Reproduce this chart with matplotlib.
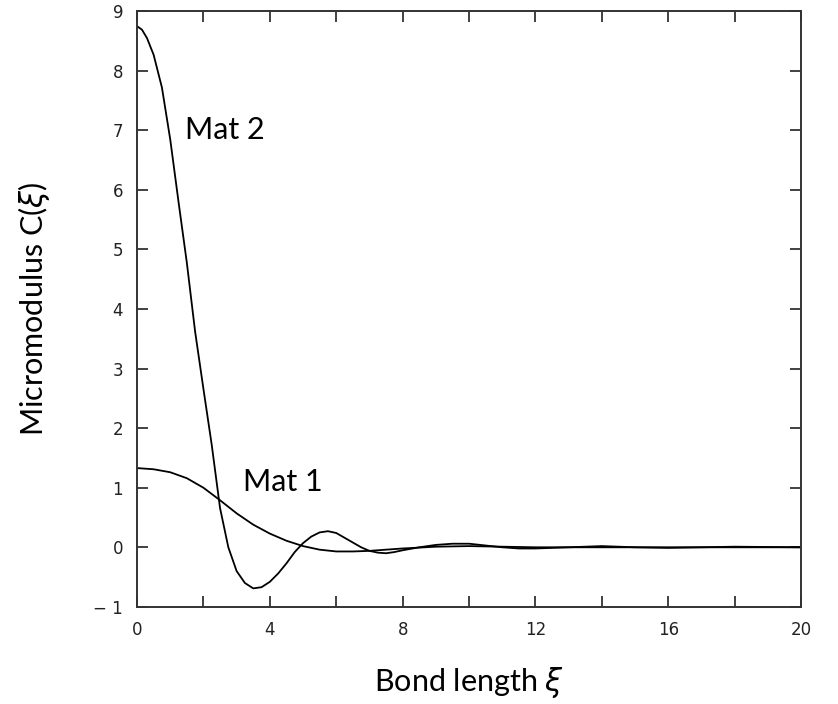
import matplotlib.pyplot as plt

# bond length samples and micromodulus values for the two materials
xi_mat2 = [0, 0.15, 0.3, 0.5, 0.75, 1.0, 1.25, 1.5, 1.75, 2.0, 2.25, 2.5, 2.75,
           3.0, 3.25, 3.5, 3.75, 4.0, 4.25, 4.5, 4.75, 5.0, 5.25, 5.5, 5.75,
           6.0, 6.25, 6.5, 6.75, 7.0, 7.25, 7.5, 7.75, 8.0, 8.5, 9.0, 9.5,
           10.0, 10.5, 11.0, 11.5, 12.0, 13.0, 14.0, 15.0, 16.0, 17.0, 18.0, 20.0]
c_mat2 = [8.75, 8.69, 8.55, 8.27, 7.72, 6.85, 5.8, 4.78, 3.62, 2.66, 1.72, 0.66, 0.0,
          -0.4, -0.6, -0.69, -0.67, -0.58, -0.44, -0.27, -0.08, 0.07, 0.18, 0.25, 0.27,
          0.24, 0.16, 0.08, 0.0, -0.06, -0.09, -0.1, -0.08, -0.05, 0.0, 0.04, 0.06,
          0.06, 0.03, 0.0, -0.02, -0.02, 0.0, 0.02, 0.0, -0.01, 0.0, 0.01, 0.0]

xi_mat1 = [0, 0.5, 1.0, 1.5, 2.0, 2.5, 3.0, 3.5, 4.0, 4.5, 5.0, 5.5, 6.0,
           6.5, 7.0, 7.5, 8.0, 9.0, 10.0, 11.0, 12.0, 14.0, 16.0, 18.0, 20.0]
c_mat1 = [1.33, 1.31, 1.26, 1.16, 1.0, 0.79, 0.57, 0.38, 0.23, 0.11, 0.02, -0.04, -0.07,
          -0.07, -0.06, -0.04, -0.02, 0.01, 0.02, 0.01, 0.0, 0.0, 0.0, 0.0, 0.0]

x_ticks = [0, 4, 8, 12, 16, 20]
y_ticks = list(range(-1, 10))

fig = plt.figure(figsize=(8.38, 7.04), dpi=100)
ax = fig.add_axes([0.1635, 0.138, 0.7925, 0.846])

ax.plot(xi_mat2, c_mat2, color='black', linewidth=1.3)
ax.plot(xi_mat1, c_mat1, color='black', linewidth=1.3)

ax.set_xlim(0, 20)
ax.set_ylim(-1, 9)
ax.set_xticks(x_ticks)
ax.set_xticks([2, 6, 10, 14, 18], minor=True)
ax.set_xticklabels([str(v) for v in x_ticks], fontfamily='DejaVu Sans')
ax.set_yticks(y_ticks)
ax.set_yticklabels(['− 1'] + [str(v) for v in y_ticks[1:]], fontfamily='DejaVu Sans')
ax.tick_params(which='both', direction='in', length=8, width=1.3, color='#333333',
               top=True, right=True, labelsize=12, pad=10, labelcolor='#222222')
for s in ax.spines.values():
    s.set_linewidth(1.4)
    s.set_color('#333333')

lab_font = dict(family='Lato', fontsize=22)
ax.set_xlabel(r'Bond length $\xi$', labelpad=19, **lab_font)
ax.set_ylabel(r'Micromodulus C($\xi$)', labelpad=30, **lab_font)

ax.text(1.45, 7.0, 'Mat 2', va='center', ha='left', **lab_font)
ax.text(3.2, 1.1, 'Mat 1', va='center', ha='left', **lab_font)

fig.savefig('out.png', dpi=100)
